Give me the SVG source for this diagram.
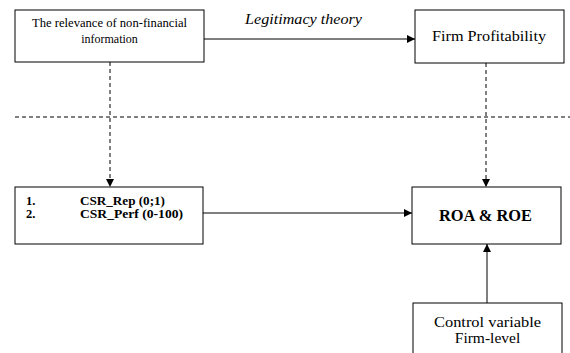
<svg xmlns="http://www.w3.org/2000/svg" width="570" height="353" viewBox="0 0 570 353">
<style>
.box{fill:#fff;stroke:#000;stroke-width:1}
.t{fill:#000}
.c{stroke:#000;stroke-width:1;fill:none}
.d{stroke-dasharray:4,3}
</style>
<defs>
<marker id="ah" viewBox="0 0 10 10" refX="10" refY="5" markerWidth="8" markerHeight="8" markerUnits="userSpaceOnUse" orient="auto">
<path d="M0,0 L10,5 L0,10 z" fill="#000"/>
</marker>
</defs>
<rect width="570" height="353" fill="#fff"/>
<g id="connectors">
<line class="c" x1="204" y1="39" x2="415" y2="39" marker-end="url(#ah)"/>
<line class="c d" x1="15" y1="117" x2="570" y2="117"/>
<line class="c d" x1="110" y1="62" x2="110" y2="187" marker-end="url(#ah)"/>
<line class="c d" x1="486" y1="63" x2="486" y2="187" marker-end="url(#ah)"/>
<line class="c" x1="203" y1="213" x2="412" y2="213" marker-end="url(#ah)"/>
<line class="c" x1="487" y1="303" x2="487" y2="244" marker-end="url(#ah)"/>
</g>
<g font-family="'Liberation Serif','DejaVu Serif',serif">
<text class="t" x="303.5" y="24" font-size="15.5" font-style="italic" text-anchor="middle" textLength="117" lengthAdjust="spacingAndGlyphs">Legitimacy theory</text>
<g id="n1">
<rect class="box" x="15" y="10" width="189" height="52"/>
<text class="t" x="109.5" y="27" font-size="12" text-anchor="middle" textLength="155" lengthAdjust="spacingAndGlyphs">The relevance of non-financial</text>
<text class="t" x="109.5" y="43" font-size="12" text-anchor="middle">information</text>
</g>
<g id="n2">
<rect class="box" x="415" y="10" width="149" height="53"/>
<text class="t" x="489" y="41" font-size="15.5" text-anchor="middle" textLength="114" lengthAdjust="spacingAndGlyphs">Firm Profitability</text>
</g>
<g id="n3">
<rect class="box" x="15" y="187" width="188" height="57"/>
<text class="t" x="26" y="205" font-size="12.5" font-weight="bold">1.</text>
<text class="t" x="80" y="205" font-size="12.5" font-weight="bold" textLength="85" lengthAdjust="spacingAndGlyphs">CSR_Rep (0;1)</text>
<text class="t" x="26" y="218" font-size="12.5" font-weight="bold">2.</text>
<text class="t" x="80" y="218" font-size="12.5" font-weight="bold" textLength="103" lengthAdjust="spacingAndGlyphs">CSR_Perf (0-100)</text>
</g>
<g id="n4">
<rect class="box" x="412" y="187" width="149" height="57"/>
<text class="t" x="485.5" y="221" font-size="16" font-weight="bold" text-anchor="middle" textLength="93" lengthAdjust="spacingAndGlyphs">ROA &amp; ROE</text>
</g>
<g id="n5">
<rect class="box" x="413" y="303" width="149" height="60"/>
<text class="t" x="487.5" y="327" font-size="15.5" text-anchor="middle" textLength="107" lengthAdjust="spacingAndGlyphs">Control variable</text>
<text class="t" x="487.5" y="343" font-size="15.5" text-anchor="middle">Firm-level</text>
</g>
</g>
</svg>
